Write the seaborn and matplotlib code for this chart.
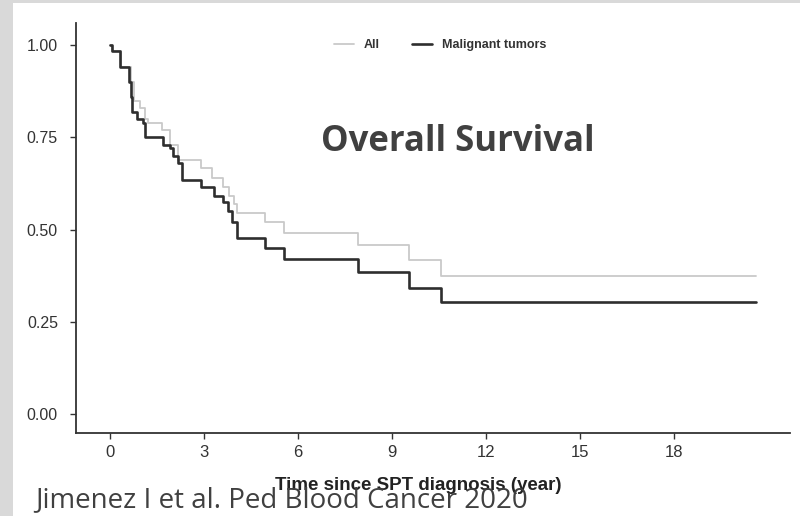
import numpy as np
import pandas as pd
import matplotlib.pyplot as plt
import seaborn as sns
from matplotlib.patches import Rectangle

# ── Datos (Kaplan-Meier, escalones) ──────────────────────────────────────────
t_all = [0.0, 0.05, 0.35, 0.65, 0.75, 0.95, 1.1, 1.2, 1.65, 1.9, 2.15, 2.9,
         3.25, 3.6, 3.8, 3.95, 4.05, 4.95, 5.55, 7.9, 9.55, 10.55, 20.6]
s_all = [1.0, 0.985, 0.94, 0.90, 0.85, 0.83, 0.80, 0.79, 0.77, 0.73, 0.69, 0.667,
         0.64, 0.615, 0.59, 0.57, 0.545, 0.52, 0.49, 0.458, 0.417, 0.375, 0.375]

t_mal = [0.0, 0.05, 0.32, 0.6, 0.65, 0.7, 0.85, 1.05, 1.1, 1.7, 1.9, 2.0, 2.15,
         2.3, 2.9, 3.3, 3.6, 3.75, 3.9, 4.05, 4.95, 5.55, 7.9, 9.55, 10.55, 20.6]
s_mal = [1.0, 0.985, 0.94, 0.90, 0.86, 0.82, 0.80, 0.79, 0.75, 0.73, 0.72, 0.70,
         0.68, 0.635, 0.615, 0.59, 0.575, 0.55, 0.52, 0.477, 0.45, 0.42, 0.385,
         0.342, 0.303, 0.303]

grupos = ["All", "Malignant tumors"]
colores = {"All": "#c9c9c9", "Malignant tumors": "#2e2e2e"}
grosores = {"All": 1.3, "Malignant tumors": 1.9}
x_ticks = [0, 3, 6, 9, 12, 15, 18]
y_ticks = [0.00, 0.25, 0.50, 0.75, 1.00]

df = pd.concat([
    pd.DataFrame({"t": t_all, "S": s_all, "Grupo": "All"}),
    pd.DataFrame({"t": t_mal, "S": s_mal, "Grupo": "Malignant tumors"}),
], ignore_index=True)

sns.set_theme(style="white")
plt.rcParams["font.family"] = ["Liberation Sans", "DejaVu Sans"]

fig = plt.figure(figsize=(8, 5.16), dpi=100, facecolor="#d9d9d9")
# panel blanco (borde gris a la izquierda y arriba)
fig.patches.append(Rectangle((13 / 800, 0), 1, 1 - 3 / 516, transform=fig.transFigure,
                             facecolor="white", edgecolor="none", zorder=-10))
ax = fig.add_axes([0.095, 0.1609, 0.8925, 0.7945])
ax.set_facecolor("white")
ax.set_zorder(1)

for g in grupos:
    sub = df[df["Grupo"] == g]
    sns.lineplot(data=sub, x="t", y="S", ax=ax, color=colores[g], lw=grosores[g],
                 drawstyle="steps-post", estimator=None, sort=False, label=g)

ax.set_xlim(-1.09, 21.7)
ax.set_ylim(-0.051, 1.06)
ax.set_xticks(x_ticks)
ax.set_yticks(y_ticks)
ax.set_yticklabels([f"{v:.2f}" for v in y_ticks], fontsize=11.5, color="#333333",
                   family=["Liberation Sans Narrow", "Liberation Sans"])
ax.set_xticklabels([str(v) for v in x_ticks], fontsize=12, color="#333333",
                   family=["Liberation Sans Narrow", "Liberation Sans"])
ax.tick_params(axis="both", direction="out", length=4, width=1, color="#333333",
               bottom=True, left=True)
ax.tick_params(axis="x", pad=5)
ax.tick_params(axis="y", pad=9)
for s in ["top", "right"]:
    ax.spines[s].set_visible(False)
for s in ["left", "bottom"]:
    ax.spines[s].set_color("#333333")
    ax.spines[s].set_linewidth(1.3)

ax.set_xlabel("Time since SPT diagnosis (year)", fontsize=13.5, fontweight="bold",
              color="#222222", family=["Liberation Sans Narrow", "Liberation Sans"])
ax.xaxis.set_label_coords(0.48, -0.108)
ax.set_ylabel("")

leg = ax.legend(loc="center", bbox_to_anchor=(0.51, 0.946), ncol=2, frameon=False,
                fontsize=9, handlelength=1.6, handletextpad=0.8, columnspacing=2.6)
for txt in leg.get_texts():
    txt.set_fontweight("bold")
    txt.set_color("#333333")

ax.text(0.535, 0.71, "Overall Survival", transform=ax.transAxes, ha="center",
        va="center", fontsize=25, fontweight="bold", color="#404040",
        family=["Open Sans", "DejaVu Sans"])

fig.text(35 / 800, 1 - 500 / 516, "Jimenez I et al. Ped Blood Cancer 2020",
         ha="left", va="center", fontsize=20, color="#404040",
         family=["Open Sans", "DejaVu Sans"], zorder=5)

fig.savefig("out.png", dpi=100, facecolor=fig.get_facecolor())
